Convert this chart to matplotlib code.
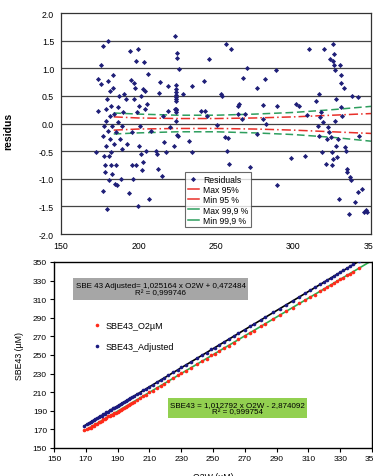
# Residuals of the SBE43 oxygen calibration and the SBE43 vs O2W regression
import numpy as np
import matplotlib.pyplot as plt
from matplotlib.patches import Rectangle

plt.rcParams['font.family'] = ['Liberation Sans', 'DejaVu Sans']

# ---- top panel: residuals ----
res_x = [172.3, 173.8, 174.0, 175.5, 176.0, 176.8, 176.8, 177.3, 177.7, 178.0,
         178.4, 178.4, 178.8, 179.0, 179.2, 179.4, 179.9, 180.1, 180.3, 180.5,
         180.7, 181.0, 181.4, 181.6, 181.8, 182.0, 182.3, 182.5, 182.7, 183.1,
         183.3, 183.5, 184.2, 184.4, 184.8, 185.3, 185.7, 186.1, 186.6, 187.0,
         187.4, 187.9, 188.5, 189.2, 189.6, 190.0,
         190.7, 191.8, 192.9, 194.0, 194.6, 195.0, 195.7, 196.1, 196.6, 197.0,
         197.2, 197.6, 198.3, 198.5, 198.9, 199.4, 199.6, 200.0, 200.4, 200.9,
         201.3, 201.5, 202.2, 202.6, 203.0, 203.5, 204.0, 204.3, 204.8, 205.8,
         206.3, 207.0, 208.0,
         211.3, 211.8, 212.3, 213.4, 214.0, 215.2, 215.6, 216.7, 217.7, 218.8,
         219.0, 220.0, 223.2, 223.6, 223.8, 224.2, 224.2, 224.2, 224.2, 224.2,
         224.2, 224.2, 224.2, 224.2, 224.2, 224.2, 224.6, 225.0, 225.0, 225.6,
         226.4, 228.6, 232.9, 234.4, 234.6, 240.5, 242.0, 243.0, 244.0, 245.4,
         250.6, 253.5, 254.0, 255.6, 256.7, 257.1, 257.8, 258.4, 259.5, 263.9,
         264.5, 265.0, 266.7, 267.6, 268.6, 269.7, 271.9, 276.2, 276.6, 280.5,
         280.5, 281.6, 282.0, 288.7, 289.2, 289.6, 298.3, 301.5, 303.7, 307.4,
         308.7, 310.2, 314.5, 315.6, 316.7, 316.7, 317.3, 317.7, 318.2, 318.8,
         319.9, 321.0, 321.6, 322.1, 323.2, 323.8, 324.2, 324.7, 324.9, 325.3,
         325.5, 325.8, 326.0, 326.0, 326.5, 326.8, 327.3, 327.7, 328.1, 328.6,
         329.2, 329.9, 330.4, 330.4, 330.8, 331.5, 332.5, 333.0, 333.6, 334.3,
         334.8, 335.9, 336.5, 337.0, 337.6, 339.6, 341.3, 341.8, 342.2, 344.4,
         345.5, 346.6, 347.7]
res_y = [-0.52, 0.23, 0.80, 1.05, 0.71, 1.41, -1.22, -0.22, -0.04, -0.58,
         -0.76, -0.88, 0.26, 0.05, -0.40, -1.55, 0.44, 1.50, 0.77, -0.13,
         -1.03, -0.58, 0.14, 0.59, -0.28, -0.76, 0.32, -0.52, -0.04, -0.91,
         0.88, 0.65, 0.17, -0.37, -1.10, -0.16, -0.76, -1.12, 0.29, 0.02,
         0.50, -0.28, -1.00, -0.46, -0.04, 0.20,
         0.53, 0.44, -0.37, -1.25, 1.32, 0.78, -0.76, -0.16, -1.00, 0.74,
         0.44, 0.65, -0.76, 1.14, 0.20, -1.49, 1.34, 0.32, -0.40, -0.04,
         -0.55, 0.50, -0.85, -0.70, 0.62, 1.11, 0.26, 0.59, -0.49, 0.35,
         0.90, -1.37, -0.13,
         -0.49, -0.55, -0.82, 0.56, 0.76, -0.95, 0.14, -0.34, -0.52, 0.23,
         0.67, -0.07, -0.40, 0.26, 1.59, 0.70, 0.62, 0.57, 0.52, 0.48,
         0.44, 0.40, 0.27, 0.24, 0.20, 0.05, 1.28, 1.19, -0.20, -0.22,
         0.98, 0.53, -0.32, -0.52, 0.68, 0.23, 0.77, 0.22, 0.14, 1.16,
         -0.03, 0.53, 0.49, -0.25, 1.44, -0.49, -0.26, -0.73, 1.34, 0.17,
         0.32, 0.35, 0.08, 0.82, 0.18, 1.00, -0.79, -0.19, 0.64, 0.33,
         0.08, 0.80, 0.00, 0.96, -1.12, 0.32, -0.63, 0.35, 0.32, -0.59,
         0.15, 1.34, 0.40, -0.04, 0.53, -0.22, 0.11, 0.20, -0.52, 0.02,
         1.34, -0.73, -0.28, -0.07, -0.16, 1.17, -0.25, -0.52, -0.75, 1.14,
         -0.65, 1.44, 1.26, 1.05, 0.97, 0.05, -0.40, 0.44, -0.61, -0.28,
         -1.37, 1.05, 0.88, 0.74, 0.29, 0.14, 0.65, -0.43, -0.49, -0.82,
         -0.88, -1.64, -0.97, -1.03, 0.50, -1.42, -1.24, 0.48, -0.22, -1.19,
         -1.61, -1.56, -1.60]

band_x = [184, 200, 225, 250, 275, 300, 325, 350]
max95 = [0.12, 0.10, 0.09, 0.09, 0.10, 0.12, 0.15, 0.18]
min95 = [-0.12, -0.10, -0.09, -0.09, -0.10, -0.12, -0.15, -0.18]
max999 = [0.19, 0.17, 0.15, 0.15, 0.17, 0.20, 0.25, 0.31]
min999 = [-0.19, -0.17, -0.15, -0.15, -0.17, -0.20, -0.25, -0.32]

# ---- bottom panel: SBE43 vs O2W ----
o2w = [169, 171, 172, 173, 174, 175, 176, 177, 178, 179, 180, 181, 182, 183,
       184, 185, 186, 187, 188, 189, 190, 191, 192, 193, 194, 195, 196, 197,
       198, 199, 200, 202, 204, 206, 208, 210, 212, 215, 217, 219, 222, 225,
       228, 230, 233, 236, 240, 243, 246, 249, 251, 254, 257, 260, 263, 266,
       270, 273, 276, 280, 283, 288, 292, 296, 300, 304, 308, 311, 314, 317,
       320, 322, 324, 326, 328, 330, 332, 334, 336, 338, 342]
sbe_raw = [168.9, 170.0, 171.6, 171.9, 173.8, 174.0, 175.9, 175.8, 177.9, 177.9,
           179.1, 180.9, 181.0, 182.1, 183.9, 183.9, 185.2, 186.0, 187.9, 187.8,
           189.0, 190.1, 190.9, 192.0, 193.5, 194.0, 195.2, 196.5, 197.1, 198.4,
           199.5, 201.2, 203.5, 205.9, 207.4, 209.9, 211.6, 214.9, 216.4, 218.5,
           221.9, 225.6, 228.4, 230.3, 233.0, 236.5, 239.8, 243.6, 246.1, 249.5,
           251.6, 254.0, 257.9, 260.1, 263.2, 266.9, 270.4, 274.0, 276.2, 281.0,
           283.5, 288.9, 292.6, 297.3, 300.8, 305.4, 308.7, 312.3, 314.8, 318.5,
           321.0, 323.5, 325.0, 327.4, 329.1, 331.5, 333.2, 335.7, 337.3, 339.6,
           343.2]
sbe_adj = [173.9, 175.9, 176.5, 178.1, 178.6, 180.2, 180.7, 182.2, 182.8, 184.3,
           184.8, 186.3, 187.0, 188.4, 189.0, 190.5, 191.0, 192.5, 193.1, 194.6,
           195.2, 196.6, 197.2, 198.7, 199.4, 200.6, 201.3, 202.8, 203.5, 204.8,
           205.4, 207.9, 209.5, 212.0, 213.6, 216.1, 217.7, 221.2, 222.8, 225.4,
           228.0, 231.5, 234.1, 236.6, 239.2, 242.8, 246.4, 249.9, 252.5, 256.1,
           257.6, 261.2, 263.8, 267.4, 270.0, 273.5, 277.2, 280.7, 283.3, 287.9,
           290.5, 296.0, 299.7, 304.3, 308.0, 312.5, 316.6, 319.5, 322.9, 325.9,
           329.0, 331.0, 333.1, 335.2, 337.3, 339.4, 341.5, 343.6, 345.7, 347.8,
           351.0]
fit_raw = (1.012792, -2.874092, 0.999754)
fit_adj = (1.025164, 0.472484, 0.999746)

W, H = 373, 477
fig = plt.figure(figsize=(W / 100, H / 100), dpi=100)

def px_axes(x0, y0, x1, y1):
    return fig.add_axes([x0 / W, 1 - y1 / H, (x1 - x0) / W, (y1 - y0) / H])

# top plot
ax1 = px_axes(61, 14, 371, 235)
for v in np.arange(-1.5, 2.0, 0.5):
    ax1.axhline(v, color='#444444', lw=0.9, zorder=1)
ax1.plot(res_x, res_y, 'D', color='#1f1f78', ms=2.6, mec='none', zorder=3,
         label='Residuals')
ax1.plot(band_x, max95, color='#e8302a', lw=1.1, dashes=(6, 2, 1, 2), label='Max 95%')
ax1.plot(band_x, min95, color='#e8302a', lw=1.1, dashes=(6, 2, 1, 2), label='Min 95 %')
ax1.plot(band_x, max999, color='#2e9e5e', lw=1.1, dashes=(5, 2.5), label='Max 99,9 %')
ax1.plot(band_x, min999, color='#2e9e5e', lw=1.1, dashes=(5, 2.5), label='Min 99,9 %')
ax1.set_xlim(150, 350)
ax1.set_ylim(-2.0, 2.0)
ax1.set_yticks(np.arange(-2.0, 2.01, 0.5))
ax1.set_yticklabels(['%.1f' % v for v in np.arange(-2.0, 2.01, 0.5)])
ax1.set_xticks([150, 200, 250, 300, 350])
ax1.tick_params(length=0, labelsize=6.3, pad=5)
for s in ax1.spines.values():
    s.set_color('#333333')
    s.set_linewidth(0.9)
ax1.set_ylabel('residus', fontsize=7.5, fontweight='bold')
ax1.yaxis.set_label_coords(-0.155, 0.47)
leg = ax1.legend(loc='lower left', bbox_to_anchor=(0.40, 0.03), fontsize=6.2,
                 frameon=True, fancybox=False, edgecolor='#444444',
                 handlelength=1.3, handletextpad=0.5, labelspacing=0.15,
                 borderpad=0.3, borderaxespad=0)
leg.get_frame().set_linewidth(0.8)
for h in leg.get_lines()[1:]:
    h.set_dashes((None, None))
    h.set_linestyle('-')

# bottom plot
ax2 = px_axes(54, 263, 372, 449)
xs = np.linspace(169, 350, 50)
ax2.plot(xs, fit_raw[0] * xs + fit_raw[1], color='#2eae4e', lw=1.2, zorder=2)
ax2.plot(xs, fit_adj[0] * xs + fit_adj[1], color='black', lw=1.2, zorder=2)
ax2.plot(o2w, sbe_raw, 'o', color='#ff2a1a', ms=2.6, mec='none', zorder=3,
         label='SBE43_O2µM')
ax2.plot(o2w, sbe_adj, 'o', color='#1a1a80', ms=2.6, mec='none', zorder=3,
         label='SBE43_Adjusted')
ax2.set_xlim(150, 350)
ax2.set_ylim(150, 350)
ax2.set_xticks(range(150, 351, 20))
ax2.set_yticks(range(150, 351, 20))
ax2.tick_params(length=3, width=0.8, labelsize=6.0, pad=2)
for s in ax2.spines.values():
    s.set_color('black')
    s.set_linewidth(1.0)
ax2.set_ylabel('SBE43 (µM)', fontsize=6.3, labelpad=6)
ax2.set_xlabel('O2W (µM)', fontsize=6.3, labelpad=7)
ax2.legend(loc='upper left', bbox_to_anchor=(0.115, 0.37 + 0.33), fontsize=6.5,
           frameon=False, handlelength=0.7, handletextpad=0.6,
           labelspacing=1.25, borderaxespad=0)

# equation boxes (pixel layout)
def eq_box(x0, y0, x1, y1, color, text):
    fig.patches.append(Rectangle((x0 / W, 1 - y1 / H), (x1 - x0) / W, (y1 - y0) / H,
                                 transform=fig.transFigure, facecolor=color,
                                 edgecolor='none', zorder=5))
    fig.text((x0 + x1) / 2 / W, 1 - (y0 + y1) / 2 / H, text, ha='center',
             va='center', fontsize=5.8, linespacing=1.1, zorder=6)

eq_box(73, 279, 248, 301, '#a6a6a6',
       'SBE 43 Adjusted= %s x O2W + %s\nR² = %s' % (
           ('%.6f' % fit_adj[0]).replace('.', ','),
           ('%.6f' % fit_adj[1]).replace('.', ','),
           ('%.6f' % fit_adj[2]).replace('.', ',')))
eq_box(168, 399, 307, 419, '#92d050',
       'SBE43 = %s x O2W - %s\nR² = %s' % (
           ('%.6f' % fit_raw[0]).replace('.', ','),
           ('%.6f' % -fit_raw[1]).replace('.', ','),
           ('%.6f' % fit_raw[2]).replace('.', ',')))

fig.savefig('out.png', dpi=100)
